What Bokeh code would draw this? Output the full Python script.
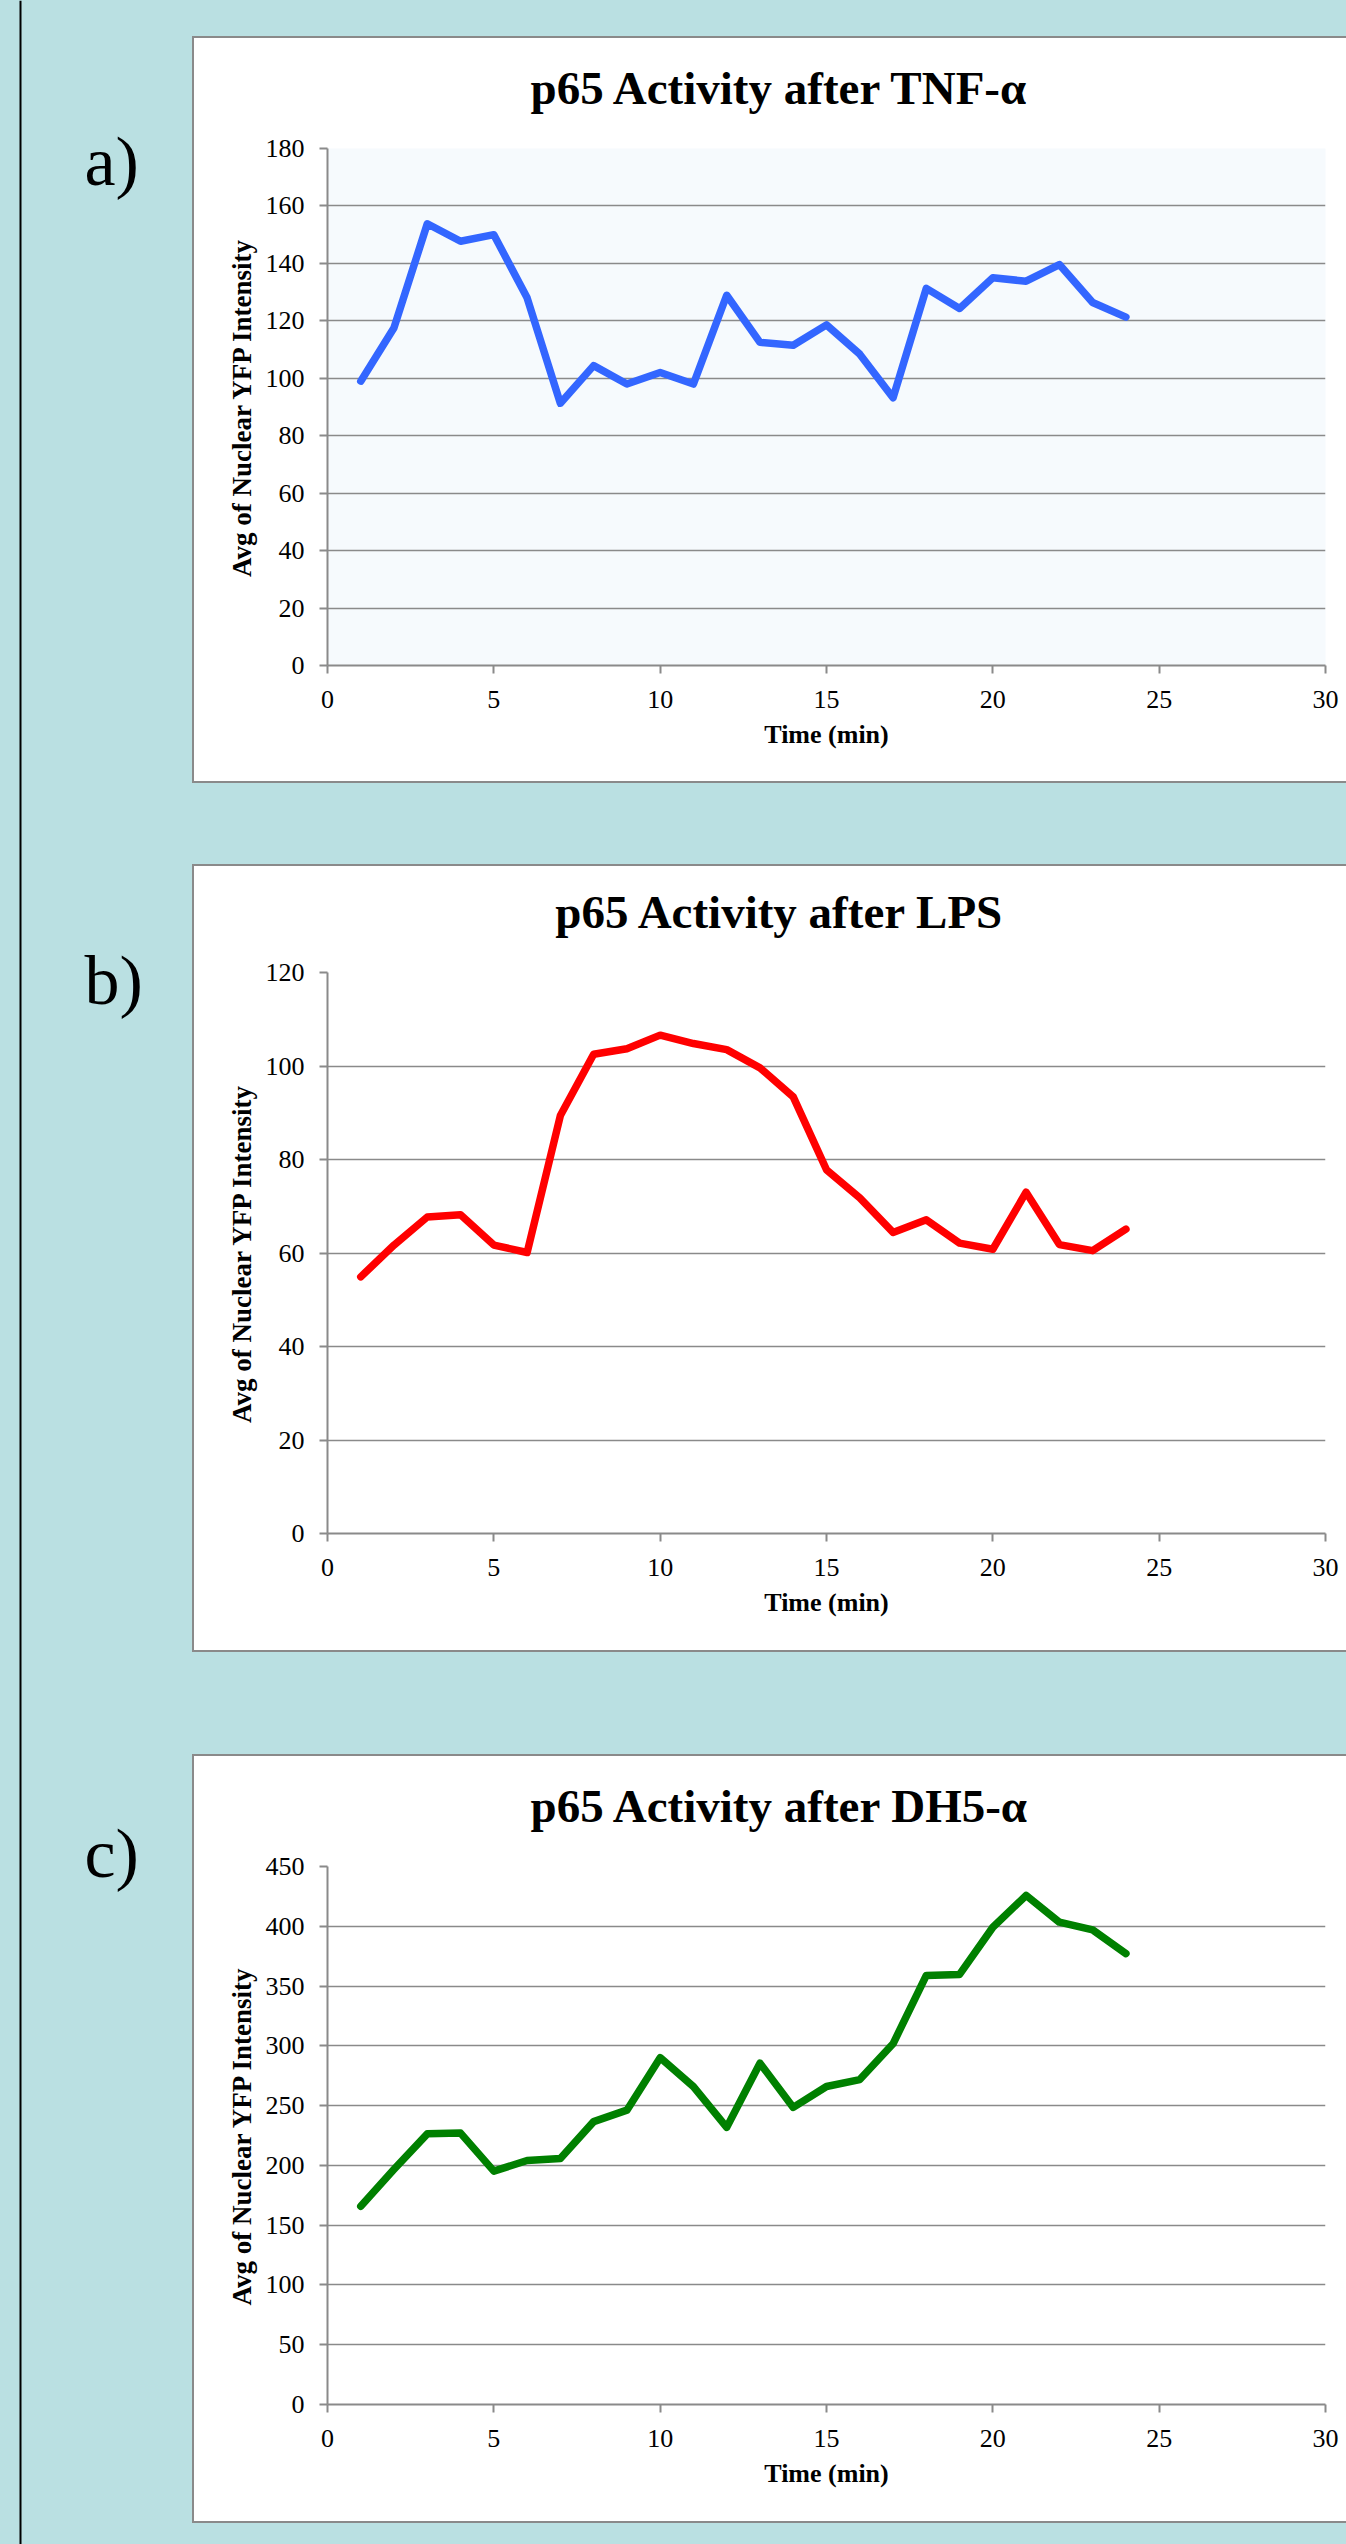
from bokeh.plotting import figure
from bokeh.layouts import row, column, Spacer
from bokeh.models import Range1d, FixedTicker, Label, Span
from bokeh.embed import file_html
from bokeh.resources import INLINE

# ---------------- data ----------------
time_min = list(range(1, 25))
tnf_alpha = [99.0, 117.6, 153.8, 147.7, 150.0, 128.0, 91.3, 104.4, 98.0, 102.0, 98.0, 128.9,
             112.5, 111.5, 118.6, 108.4, 93.2, 131.3, 124.3, 135.0, 133.8, 139.6, 126.4, 121.3]
lps = [54.9, 61.7, 67.7, 68.2, 61.7, 60.1, 89.4, 102.5, 103.7, 106.6, 104.8, 103.5,
       99.6, 93.4, 77.8, 71.8, 64.4, 67.1, 62.1, 60.8, 73.0, 61.8, 60.5, 65.1]
dh5_alpha = [165.9, 196.8, 226.4, 227.0, 195.2, 204.1, 205.7, 236.6, 246.2, 290.1, 265.9, 231.8,
             285.5, 248.5, 266.0, 271.8, 301.7, 358.9, 359.7, 399.2, 425.8, 403.4, 397.0, 377.1]

x_ticks = [0, 5, 10, 15, 20, 25, 30]
tnf_ticks = [0, 20, 40, 60, 80, 100, 120, 140, 160, 180]
lps_ticks = [0, 20, 40, 60, 80, 100, 120]
dh5_ticks = [0, 50, 100, 150, 200, 250, 300, 350, 400, 450]

titles = ["p65 Activity after TNF-\u03b1", "p65 Activity after LPS", "p65 Activity after DH5-\u03b1"]
panel_labels = ["a)", "b)", "c)"]
x_label = "Time (min)"
y_label = "Avg of Nuclear YFP Intensity"

# ---------------- styles / layout ----------------
BG = "#bae0e2"
GRAY = "#8a8a8a"
SERIF = "Liberation Serif"
TICK_FONT = "'Liberation Serif'"
PAGE_W, PAGE_H = 1346, 2544
SIDE_W = 192                 # panels start at page x = 192
PANEL_W = PAGE_W - SIDE_W    # 1154 (right edge of the panel lies off-page)
BW = 2                       # panel border width
FRAME_LEFT_PAGE = 327
FRAME_W = 998
TOP_PAD = 15                 # chart figure border above its plot area
TITLE_CX_PAGE = 780
TITLE_GAP = 61               # title anchor above the plot area
LABEL_Y = [161, 980, 1853]   # panel-letter anchors (page y)


def make_panel(title, xs, ys, yticks, color, H, frame_top_off, frame_h, plot_bg):
    cw = PANEL_W - BW
    ch = H - 2 * BW
    th = frame_top_off - BW - TOP_PAD          # height of the title strip
    left_b = FRAME_LEFT_PAGE - SIDE_W - BW
    right_b = cw - left_b - FRAME_W
    chart_h = ch - th
    bottom_b = chart_h - TOP_PAD - frame_h

    # title strip: same side borders as the chart, ranges in strip pixels
    t = figure(width=cw, height=th, title=None,
               x_range=Range1d(left_b, left_b + FRAME_W),
               y_range=Range1d(th, TOP_PAD),
               x_axis_location=None, y_axis_location=None,
               min_border_left=left_b, min_border_right=right_b,
               min_border_top=TOP_PAD, min_border_bottom=0,
               output_backend="svg", toolbar_location=None)
    t.background_fill_color = None
    t.border_fill_color = "white"
    t.outline_line_color = None
    t.grid.visible = False
    t.add_layout(Label(x=TITLE_CX_PAGE - SIDE_W - BW, y=th + TOP_PAD - TITLE_GAP, text=title,
                       text_align="center", text_baseline="alphabetic",
                       text_font=SERIF, text_font_style="bold", text_font_size="47px",
                       text_color="#000000"))

    p = figure(width=cw, height=chart_h, title=None,
               x_range=Range1d(x_ticks[0], x_ticks[-1]),
               y_range=Range1d(yticks[0], yticks[-1]),
               output_backend="svg", toolbar_location=None,
               min_border_left=left_b, min_border_right=right_b,
               min_border_top=TOP_PAD, min_border_bottom=bottom_b)
    p.border_fill_color = "white"
    p.background_fill_color = plot_bg
    p.outline_line_color = None

    p.xaxis.ticker = FixedTicker(ticks=x_ticks)
    p.yaxis.ticker = FixedTicker(ticks=yticks)
    p.axis.axis_line_color = GRAY
    p.axis.axis_line_width = 2
    p.axis.major_tick_line_color = GRAY
    p.axis.major_tick_line_width = 2
    p.axis.major_tick_out = 8
    p.axis.major_tick_in = 0
    p.axis.minor_tick_line_color = None
    p.axis.major_label_text_font = TICK_FONT
    p.axis.major_label_text_font_style = "normal"
    p.axis.major_label_text_font_size = "26px"
    p.axis.major_label_text_color = "#000000"
    p.axis.axis_label_text_font = SERIF
    p.axis.axis_label_text_font_style = "bold"
    p.axis.axis_label_text_font_size = "26px"
    p.axis.axis_label_text_color = "#000000"
    p.xaxis.axis_label = x_label
    p.yaxis.axis_label = y_label
    p.yaxis.axis_label_text_font_size = "27px"
    p.xaxis.major_label_standoff = 17
    p.yaxis.major_label_standoff = 15
    p.xaxis.axis_label_standoff = 9
    p.yaxis.axis_label_standoff = 6

    p.xgrid.visible = False
    p.ygrid.grid_line_color = GRAY
    p.ygrid.grid_line_width = 1.6

    p.line(xs, ys, line_color=color, line_width=7.5, line_join="round", line_cap="round")

    gstyle = {"background-color": GRAY}
    top = Spacer(width=PANEL_W, height=BW, styles=gstyle)
    bot = Spacer(width=PANEL_W, height=BW, styles=gstyle)
    lft = Spacer(width=BW, height=ch, styles=gstyle)
    inner = column(t, p, styles={"background-color": "white"})
    return column(top, row(lft, inner), bot)


pa = make_panel(titles[0], time_min, tnf_alpha, tnf_ticks, "#3366ff", 747, 112, 517, "#f6fafd")
pb = make_panel(titles[1], time_min, lps, lps_ticks, "#ff0000", 788, 108, 561, "#ffffff")
pc = make_panel(titles[2], time_min, dh5_alpha, dh5_ticks, "#008000", 769, 112, 538, "#ffffff")

# left strip with the vertical rule and panel letters (page coordinates)
side = figure(width=SIDE_W, height=PAGE_H, title=None, x_range=Range1d(0, SIDE_W),
              y_range=Range1d(PAGE_H, 0), x_axis_location=None, y_axis_location=None,
              min_border=0, output_backend="svg", toolbar_location=None)
side.background_fill_color = BG
side.border_fill_color = BG
side.outline_line_color = None
side.grid.visible = False
side.add_layout(Span(location=20, dimension="height", line_color="black", line_width=2))
for lab, yb in zip(panel_labels, LABEL_Y):
    side.add_layout(Label(x=84, y=yb, text=lab, text_font=SERIF, text_font_size="70px",
                          text_baseline="alphabetic", text_color="#000000"))

right = column(Spacer(width=PANEL_W, height=36), pa,
               Spacer(width=PANEL_W, height=81), pb,
               Spacer(width=PANEL_W, height=102), pc,
               Spacer(width=PANEL_W, height=21))
root = row(side, right)

html = file_html(root, INLINE, title="p65 activity")
html = html.replace("</head>", "<style>html,body{background-color:%s;overflow:hidden;}</style></head>" % BG, 1)
open("out.html", "w").write(html)
